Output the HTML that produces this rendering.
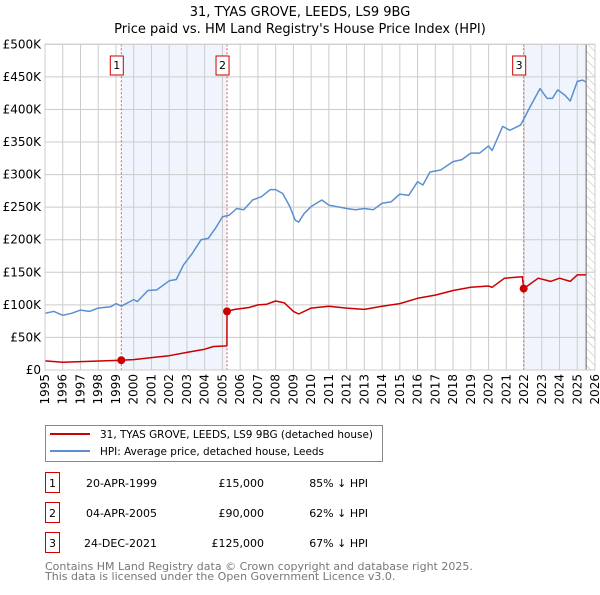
<!DOCTYPE html>
<html><head><meta charset="utf-8"><style>
body{margin:0;background:#fff;font-family:"Liberation Sans","DejaVu Sans",sans-serif;}
svg text{font-family:"DejaVu Sans","Liberation Sans",sans-serif;}
</style></head><body>
<svg id="c" width="600" height="590" xmlns="http://www.w3.org/2000/svg">
<defs><pattern id="hatch" width="6" height="6" patternUnits="userSpaceOnUse" patternTransform="rotate(-45)"><line x1="0" y1="0" x2="0" y2="6" stroke="#bbb" stroke-width="1"/></pattern></defs>
<text x="300" y="16" text-anchor="middle" font-size="13">31, TYAS GROVE, LEEDS, LS9 9BG</text>
<text x="300" y="33" text-anchor="middle" font-size="13">Price paid vs. HM Land Registry's House Price Index (HPI)</text>
<g id="plot"></g>
<g>
<rect x="45.5" y="425.5" width="337" height="36" fill="#fff" stroke="#888"/>
<line x1="50" y1="434" x2="90" y2="434" stroke="#cc0000" stroke-width="2"/>
<text x="100" y="438" font-size="11" textLength="273" lengthAdjust="spacingAndGlyphs">31, TYAS GROVE, LEEDS, LS9 9BG (detached house)</text>
<line x1="50" y1="451" x2="90" y2="451" stroke="#5b8fd0" stroke-width="2"/>
<text x="100" y="455" font-size="11" textLength="224" lengthAdjust="spacingAndGlyphs">HPI: Average price, detached house, Leeds</text>
</g>
<g id="table" font-size="11"></g>
<text x="45" y="570" font-size="11" fill="#777">Contains HM Land Registry data © Crown copyright and database right 2025.</text>
<text x="45" y="580" font-size="11" fill="#777">This data is licensed under the Open Government Licence v3.0.</text>
</svg>
<script>
const hpiYears=[1995,1995.5,1996,1996.5,1997,1997.5,1998,1998.7,1999,1999.3,2000,2000.2,2000.8,2001.3,2002,2002.4,2002.8,2003.3,2003.8,2004.2,2004.6,2005,2005.4,2005.8,2006.2,2006.7,2007.2,2007.7,2008,2008.4,2008.8,2009.1,2009.3,2009.6,2010,2010.6,2011,2012,2012.5,2013,2013.5,2014,2014.5,2015,2015.5,2016,2016.3,2016.7,2017.3,2018,2018.5,2019,2019.5,2020,2020.2,2020.8,2021.2,2021.8,2022,2022.3,2022.9,2023.3,2023.6,2023.9,2024.3,2024.6,2025,2025.3,2025.5];
const hpiValues=[87,90,84,87,92,90,95,97,102,98,108,105,122,123,137,139,161,179,200,202,217,235,238,248,246,261,266,277,277,271,251,230,227,240,251,261,253,248,246,248,246,256,258,270,268,289,284,304,307,320,323,333,333,344,337,374,368,376,386,402,432,417,417,430,422,413,443,445,442];
const redYears=[1995,1996,1999.3,2000,2001,2002,2003,2004,2004.5,2005.25,2005.26,2005.7,2006.5,2007,2007.5,2008,2008.5,2009,2009.3,2010,2011,2012,2013,2014,2015,2016,2017,2018,2019,2020,2020.2,2020.9,2021.9,2021.98,2022.8,2023.5,2024,2024.6,2025,2025.5];
const redValues=[14,12,15,16,19,22,27,32,36,37,90,93,96,100,101,106,103,90,86,95,98,95,93,98,102,110,115,122,127,129,127,141,143,125,141,136,141,136,146,146];
const saleYears=[1999.3,2005.26,2021.98];
const saleValues=[15,90,125];
const saleLabels=["1","2","3"];
const saleDates=["20-APR-1999","04-APR-2005","24-DEC-2021"];
const salePrices=["£15,000","£90,000","£125,000"];
const saleHpi=["85% ↓ HPI","62% ↓ HPI","67% ↓ HPI"];
const yTicks=[0,50,100,150,200,250,300,350,400,450,500];
const yTickLabels=["£0","£50K","£100K","£150K","£200K","£250K","£300K","£350K","£400K","£450K","£500K"];
const xTicks=[1995,1996,1997,1998,1999,2000,2001,2002,2003,2004,2005,2006,2007,2008,2009,2010,2011,2012,2013,2014,2015,2016,2017,2018,2019,2020,2021,2022,2023,2024,2025,2026];

const NS="http://www.w3.org/2000/svg";
const X0=45,X1=595,Y0=370,Y1=44.3;
const xs=y=>X0+(y-1995)/(2026-1995)*(X1-X0);
const ys=v=>Y0-v/500*(Y0-Y1);
const plot=document.getElementById('plot');
function mk(t,a,p){const e=document.createElementNS(NS,t);for(const k in a)e.setAttribute(k,a[k]);(p||plot).appendChild(e);return e;}
let s1=mk('rect',{x:xs(saleYears[0]),y:Y1,width:xs(saleYears[1])-xs(saleYears[0]),height:Y0-Y1,fill:'#f0f4fc'});


let s2=mk('rect',{x:xs(saleYears[2]),y:Y1,width:xs(2025.5)-xs(saleYears[2]),height:Y0-Y1,fill:'#f0f4fc'});


let hz=mk('rect',{x:xs(2025.5),y:Y1,width:X1-xs(2025.5),height:Y0-Y1,fill:'url(#hatch)'});


yTicks.forEach((v,i)=>{
 mk('line',{x1:X0,x2:X1,y1:ys(v),y2:ys(v),stroke:'#ccc','stroke-width':1});
 const t=mk('text',{x:X0-4,y:ys(v)+4,'text-anchor':'end','font-size':12});t.textContent=yTickLabels[i];
 
 
});
xTicks.forEach(y=>{
 mk('line',{x1:xs(y),x2:xs(y),y1:Y1,y2:Y0,stroke:'#ccc','stroke-width':1});
 const t=mk('text',{x:0,y:0,'font-size':12,'text-anchor':'end',transform:`translate(${xs(y)+4},${Y0+4}) rotate(-90)`});t.textContent=y;
 
 
});
mk('line',{x1:xs(2025.5),x2:xs(2025.5),y1:Y1,y2:Y0,stroke:'#666','stroke-width':1});
saleYears.forEach((y,i)=>{
 const l=mk('line',{x1:xs(y),x2:xs(y),y1:Y1,y2:Y0,stroke:'#e55','stroke-width':1,'stroke-dasharray':'2,2'});
 
 
 const r=mk('rect',{x:xs(y)-11,y:56,width:13,height:19,fill:'#fff',stroke:'#c00'});
 
 
 const t=mk('text',{x:xs(y)-4.5,y:69,'text-anchor':'middle','font-size':11});t.textContent=saleLabels[i];
});
function path(xa,va,col,name){
 const d=xa.map((y,i)=>(i?'L':'M')+xs(y).toFixed(1)+','+ys(va[i]).toFixed(1)).join('');
 const p=mk('path',{d:d,fill:'none',stroke:col,'stroke-width':1.5,'stroke-linejoin':'round'});
 
 
}
path(hpiYears,hpiValues,'#5b8fd0','hpi-line');
path(redYears,redValues,'#cc0000','price-paid-line');
saleYears.forEach((y,i)=>{
 const c=mk('circle',{cx:xs(y),cy:ys(saleValues[i]),r:4,fill:'#cc0000'});
 
 
});
mk('rect',{x:X0,y:Y1,width:X1-X0,height:Y0-Y1,fill:'none',stroke:'#ccc'});
const tb=document.getElementById('table');
saleYears.forEach((y,i)=>{
 const cy=483+i*30;
 const r=mk('rect',{x:45.5,y:cy-10.5,width:14,height:20,fill:'#fff',stroke:'#c00'},tb);
 
 
 const t0=mk('text',{x:52.5,y:cy+4,'text-anchor':'middle'},tb);t0.textContent=saleLabels[i];
 const t1=mk('text',{x:157,y:cy+4,'text-anchor':'end'},tb);t1.textContent=saleDates[i];
 
 
 const t2=mk('text',{x:264,y:cy+4,'text-anchor':'end'},tb);t2.textContent=salePrices[i];
 
 
 const t3=mk('text',{x:368,y:cy+4,'text-anchor':'end'},tb);t3.textContent=saleHpi[i];
 
 
});
</script>
</body></html>
